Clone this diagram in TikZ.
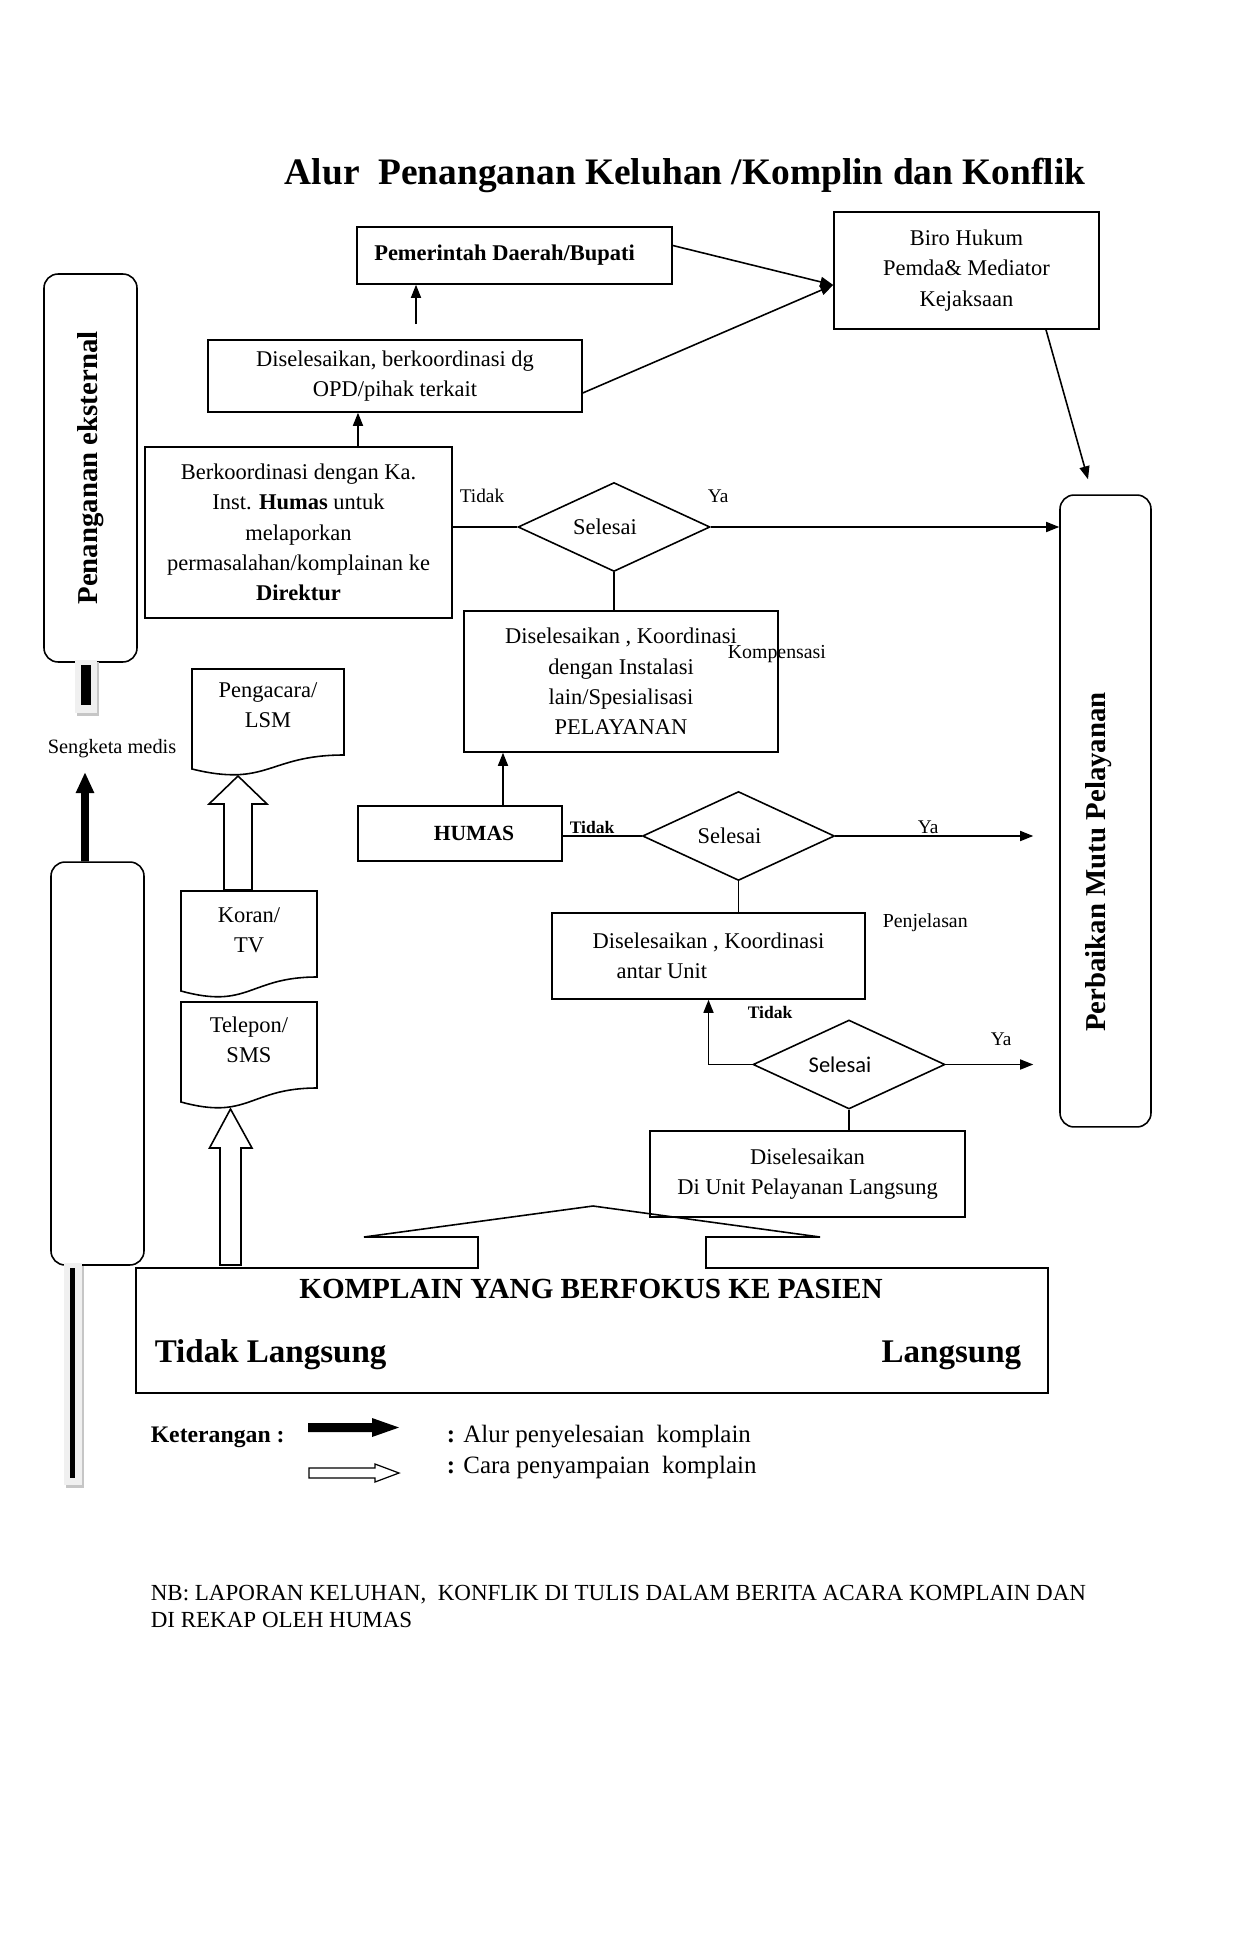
\documentclass[tikz,border=0pt]{standalone}
\usepackage{fontspec}
\setmainfont{Liberation Serif}
\newfontfamily\calibri{Carlito}
\usetikzlibrary{arrows.meta,shapes.geometric}

\newcommand\fs[2]{\fontsize{#1}{#2}\selectfont}

\begin{document}
\begin{tikzpicture}[x=0.02cm,y=-0.02cm,line width=0.9pt,>={Triangle[width=0.2cm,length=0.26cm]}]
    \tikzstyle{box}=[rectangle,draw=black,inner sep=2pt,align=center,font=\fs{12.8}{17.3}]
    \tikzstyle{decision}=[diamond,draw=black,aspect=2.2,inner sep=0pt,minimum width=3.84cm,minimum height=1.78cm,font=\fs{12.8}{17.3}]
    \tikzstyle{panel}=[rectangle,draw=black,rounded corners=0.28cm,inner sep=0pt]
    \tikzstyle{note}=[inner sep=0pt,align=center,font=\fs{11}{13}]
    \tikzstyle{doctxt}=[inner sep=0pt,align=center,font=\fs{12.8}{16.8}]
    \useasboundingbox (0,0) rectangle (1241,1949);

    \node[note, font=\bfseries\fs{21.3}{25}, anchor=base west] (title) at (284,185) {Alur\ \ Penanganan Keluhan /Komplin dan Konflik};

    % kotak proses
    \node[box, minimum width=6.3cm, minimum height=1.14cm, font=\bfseries\fs{12.8}{17.3}] (pemda) at (514.5,255.5) {Pemerintah Daerah/Bupati\hspace*{0.4cm}};
    \node[box, minimum width=7.48cm, minimum height=1.44cm] (opd) at (395,376) {Diselesaikan, berkoordinasi dg\\OPD/pihak terkait};
    \node[box, minimum width=5.3cm, minimum height=2.34cm] (biro) at (966.5,270.5) {Biro Hukum\\Pemda\& Mediator\\Kejaksaan};
    \node[box, minimum width=6.14cm, minimum height=3.42cm] (berk) at (298.5,532.5) {Berkoordinasi dengan Ka.\\Inst. \textbf{Humas} untuk\\melaporkan\\permasalahan/komplainan ke\\\textbf{Direktur}};
    \node[box, minimum width=6.28cm, minimum height=2.82cm] (inst) at (621,681.5) {Diselesaikan , Koordinasi\\dengan Instalasi\\lain/Spesialisasi\\PELAYANAN};
    \node[box, minimum width=4.08cm, minimum height=1.1cm, font=\bfseries\fs{12.3}{15}] (humas) at (460,833.5) {\hspace*{0.56cm}HUMAS};
    \node[box, minimum width=6.26cm, minimum height=1.72cm, align=left] (unit) at (708.5,956) {Diselesaikan , Koordinasi\\\hspace*{0.48cm}antar Unit};
    \node[box, minimum width=6.3cm, minimum height=1.72cm] (lang) at (807.5,1174) {Diselesaikan\\Di Unit Pelayanan Langsung};

    % keputusan
    \foreach \name/\x/\y in {d1/614/527, d2/738.5/836}
        \node[decision] (\name) at (\x,\y) {Selesai\hspace*{0.36cm}};
    \node[decision, font=\calibri\fs{12.8}{15}] (d3) at (849,1064.5) {Selesai\hspace*{0.36cm}};

    % panel samping
    \node[panel, rotate=90, minimum width=7.76cm, minimum height=1.86cm, font=\bfseries\fs{16.4}{20}] (ekst) at (90.5,468) {Penanganan eksternal};
    \node[panel, minimum width=1.82cm, minimum height=12.64cm] (perb) at (1105.5,811) {};
    \node[note, rotate=90, font=\bfseries\fs{16.4}{20}] (perb-txt) at (1099,862) {Perbaikan Mutu Pelayanan};
    \node[panel, minimum width=1.86cm, minimum height=8.06cm] (medis-box) at (97.5,1063.5) {};

    % garis tebal abu-abu
    \fill[gray!45] (77,662) rectangle (99,716);
    \fill[gray!12] (75,660) rectangle (97,713);
    \fill[black] (81,665) rectangle (91,705);
    \fill[gray!45] (66,1266) rectangle (84,1488);
    \fill[gray!12] (64,1263) rectangle (82,1485);
    \fill[black] (70,1268) rectangle (75,1478);

    \node[note, font=\fs{11.6}{13}, anchor=base west] (sengketa) at (47,753) {Sengketa medis};
    \coordinate (medis-in) at (85,772);
    \draw[line width=4.5pt, -{Triangle[width=0.34cm,length=0.42cm]}] ([xshift=-0.25cm]medis-box.north) -- (medis-in);

    % dokumen
    \foreach \x/\y/\w in {192/669/152, 181/891/136, 181/1002/136}
        \draw (\x,\y) -- ({\x+\w},\y) -- ({\x+\w},{\y+86}) .. controls ({\x+\w/2},{\y+86}) and ({\x+\w/2},{\y+118.7}) .. (\x,{\y+100}) -- cycle;
    \node[doctxt, anchor=base] (lsm) at (268,727) {Pengacara/\\LSM};
    \node[doctxt, anchor=base] (koran) at (249,952) {Koran/\\TV};
    \node[doctxt, anchor=base] (sms) at (249,1062) {Telepon/\\SMS};

    % panah kosong
    \draw[fill=white] (224,890) -- (224,804) -- (209,804) -- (238,776) -- (267,804) -- (252,804) -- (252,890) -- cycle;
    \draw[fill=white] (220,1265) -- (220,1148) -- (209.5,1148) -- (230.5,1109) -- (252,1148) -- (241,1148) -- (241,1265) -- cycle;

    % kotak komplain
    \draw (136,1268) -- (478,1268) -- (478,1237) -- (364,1237) -- (593,1206) -- (820,1237) -- (706,1237) -- (706,1268) -- (1048,1268) -- (1048,1393) -- (136,1393) -- cycle;
    \node[note, font=\bfseries\fs{16.6}{20}, anchor=base] (kompl) at (591,1298) {KOMPLAIN YANG BERFOKUS KE PASIEN};
    \node[note, font=\bfseries\fs{18.8}{22}, anchor=base west] (tl) at (154,1362) {Tidak Langsung};
    \node[note, font=\bfseries\fs{18.8}{22}, anchor=base east] (ls) at (1022,1362) {Langsung};

    % label
    \node[note, anchor=base west] (tidak-1) at (459,502) {Tidak};
    \node[note, anchor=base west] (ya-1) at (707,502) {Ya};
    \node[note, font=\fs{11.3}{13}, anchor=base west] (komp) at (727,658) {Kompensasi};
    \node[note, font=\bfseries\fs{10}{12}, anchor=base west] (tidak-2) at (569,833) {Tidak};
    \node[note, anchor=base west] (ya-2) at (917,833) {Ya};
    \node[note, font=\fs{11.3}{13}, anchor=base west] (penj) at (882,927) {Penjelasan};
    \node[note, font=\bfseries\fs{10}{12}, anchor=base west] (tidak-3) at (747,1018) {Tidak};
    \node[note, anchor=base west] (ya-3) at (990,1045) {Ya};

    % alur
    \coordinate (biro-in) at ([yshift=-0.29cm]biro.west);
    \draw[->, shorten <=0.3cm] ([xshift=0.42cm]opd.north) -- ([xshift=0.42cm]opd.north |- pemda.south);
    \draw[->] ([xshift=1.19cm]berk.north) -- ([xshift=1.19cm]berk.north |- opd.south);
    \draw[->] ([yshift=0.2cm]pemda.east) -- (biro-in);
    \draw[->] ([yshift=-0.34cm]opd.east) -- (biro-in);
    \draw[->] ([xshift=1.59cm]biro.south) -- ([xshift=-0.35cm,yshift=0.3cm]perb.north);
    \draw (d1.west -| berk.east) -- (d1.west);
    \draw[->] (d1.east) -- (d1.east -| perb.west);
    \draw (d1.south) -- (d1.south |- inst.north);
    \draw[->] ([xshift=0.86cm]humas.north) -- ([xshift=0.86cm]humas.north |- inst.south);
    \draw (d2.west -| humas.east) -- (d2.west);
    \draw[->, shorten >=0.52cm] (d2.east) -- (d2.east -| perb.west);
    \draw (d2.south) -- (d2.south |- unit.north);
    \draw[->] (d3.west) -| (unit.south);
    \draw[->, shorten >=0.52cm] (d3.east) -- (d3.east -| perb.west);
    \draw (d3.south) -- (d3.south |- lang.north);

    % keterangan
    \node[note, font=\bfseries\fs{13.5}{16}, anchor=base west] (ket) at (150,1442) {Keterangan :};
    \fill (308,1423) -- (372,1423) -- (372,1418) -- (399,1427.5) -- (372,1437) -- (372,1432) -- (308,1432) -- cycle;
    \draw[line width=0.7pt] (309,1468) -- (375,1468) -- (375,1464) -- (399,1473) -- (375,1482) -- (375,1478) -- (309,1478) -- cycle;
    \node[note, font=\fs{14.2}{16}, anchor=base west] (alur) at (446,1442) {\textbf{:} Alur penyelesaian\ \ komplain};
    \node[note, font=\fs{14.2}{16}, anchor=base west] (cara) at (446,1473) {\textbf{:} Cara penyampaian\ \ komplain};

    \node[note, font=\fs{13.1}{15.3}, anchor=base west, align=left] (nb) at (150,1627) {NB: LAPORAN KELUHAN,\ \ KONFLIK DI TULIS DALAM BERITA ACARA KOMPLAIN DAN\\DI REKAP OLEH HUMAS};
\end{tikzpicture}
\end{document}
